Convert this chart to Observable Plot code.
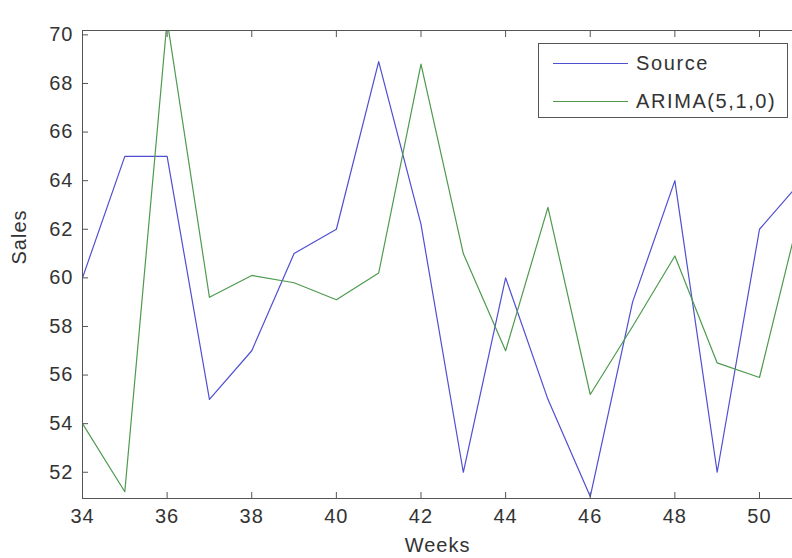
<!DOCTYPE html>
<html>
<head>
<meta charset="utf-8">
<script src="https://cdn.jsdelivr.net/npm/d3@7"></script>
<script src="https://cdn.jsdelivr.net/npm/@observablehq/plot@0.6"></script>
<style>
  html, body { margin: 0; padding: 0; background: #fff; }
  #wrap { position: relative; width: 792px; height: 558px; overflow: hidden; }
  #legend {
    position: absolute; left: 538px; top: 43px; width: 250px; height: 75px;
    border: 1px solid #555; background: #fff; box-sizing: border-box;
    font-family: "Liberation Sans", Arial, sans-serif; font-size: 20px; letter-spacing: 1.6px; color: #333;
  }
  .row { position: absolute; left: 0; height: 24px; display: flex; align-items: center; }
  .sw { width: 75px; margin-left: 14px; margin-right: 8px; border-top: 1.2px solid; height: 0; }
</style>
</head>
<body>
<div id="wrap"></div>
<script>
const weeks = [34,35,36,37,38,39,40,41,42,43,44,45,46,47,48,49,50,51];
const source = [60,65,65,55,57,61,62,68.9,62.2,52,60,55,51,59,64,52,62,64];
const arima = [54,51.2,70.6,59.2,60.1,59.8,59.1,60.2,68.8,61,57,62.9,55.2,58,60.9,56.5,55.9,63];
const seriesNames = ["Source", "ARIMA(5,1,0)"];
const seriesColors = ["#4f4fd2", "#4e9a4e"];
const xTicks = [34,36,38,40,42,44,46,48,50];
const yTicks = [52,54,56,58,60,62,64,66,68,70];
const xDomain = [34, 50.78];
const yDomain = [50.92, 70.18];

const rows = [];
weeks.forEach((w, i) => {
  rows.push({week: w, value: source[i], series: seriesNames[0]});
  rows.push({week: w, value: arima[i], series: seriesNames[1]});
});

const axisColor = "#555";
const chart = Plot.plot({
  width: 792,
  height: 558,
  marginLeft: 82,
  marginRight: 0,
  marginTop: 30,
  marginBottom: 60,
  style: {fontFamily: "'Liberation Sans', Arial, sans-serif", fontSize: "20px", letterSpacing: "1px", color: "#333", background: "#fff"},
  x: {domain: xDomain, ticks: xTicks},
  y: {domain: yDomain, ticks: yTicks},
  color: {domain: seriesNames, range: seriesColors},
  marks: [
    Plot.line(rows.filter(d => d.series === seriesNames[0]), {x: "week", y: "value", stroke: seriesColors[0], strokeWidth: 1.2, clip: true}),
    Plot.line(rows.filter(d => d.series === seriesNames[1]), {x: "week", y: "value", stroke: seriesColors[1], strokeWidth: 1.2, clip: true}),
    Plot.ruleX([xDomain[0]], {stroke: axisColor}),
    Plot.ruleY([yDomain[0], yDomain[1]], {stroke: axisColor}),
    Plot.axisY(yTicks, {anchor: "left", tickSize: 6, dx: 6, tickFormat: () => "", stroke: axisColor, label: null}),
    Plot.axisY(yTicks, {anchor: "left", tickSize: 0, tickPadding: 9, fill: "#333", label: null}),
    Plot.axisX(xTicks, {anchor: "bottom", tickSize: 6, dy: -6, tickFormat: () => "", stroke: axisColor, label: null}),
    Plot.axisX(xTicks, {anchor: "top", tickSize: 6, dy: 6, tickFormat: () => "", stroke: axisColor, label: null}),
    Plot.axisX(xTicks, {anchor: "bottom", tickSize: 0, tickPadding: 10, fill: "#333", label: null}),
    Plot.text(["Weeks"], {frameAnchor: "bottom", lineAnchor: "middle", dy: 47, fill: "#333", fontSize: 20}),
    Plot.text(["Sales"], {frameAnchor: "left", rotate: -90, lineAnchor: "middle", dx: -63, fill: "#333", fontSize: 20})
  ]
});

const wrap = document.getElementById("wrap");
wrap.appendChild(chart);

const legend = document.createElement("div");
legend.id = "legend";
seriesNames.forEach((name, i) => {
  const row = document.createElement("div");
  row.className = "row";
  row.style.top = (i === 0 ? 7 : 45) + "px";
  const sw = document.createElement("span");
  sw.className = "sw";
  sw.style.borderTopColor = seriesColors[i];
  const t = document.createElement("span");
  t.textContent = name;
  row.appendChild(sw);
  row.appendChild(t);
  legend.appendChild(row);
});
wrap.appendChild(legend);
</script>
</body>
</html>
